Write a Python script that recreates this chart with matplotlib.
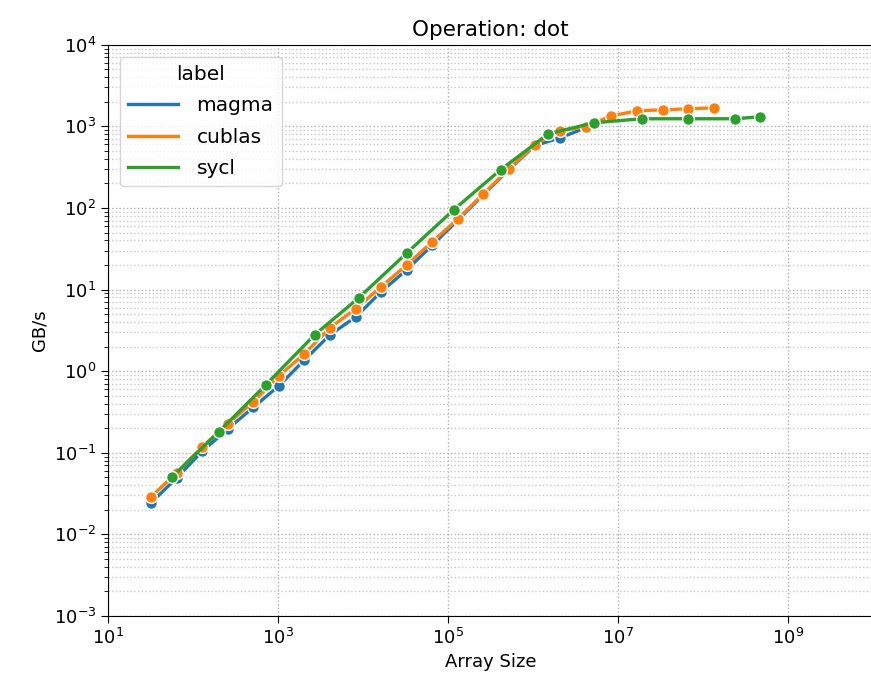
import numpy as np
import pandas as pd
import matplotlib
matplotlib.use("Agg")
import matplotlib.pyplot as plt
import matplotlib.ticker as mticker
from matplotlib.lines import Line2D
import seaborn as sns

# ---- data ----
magma_size = [32, 64, 128, 256, 512, 1024, 2048, 4096, 8192, 16384, 32768,
              65536, 131072, 262144, 524288, 1048576, 2097152, 4194304]
magma_gbs = [0.0243, 0.049, 0.104, 0.195, 0.36, 0.66, 1.37, 2.79, 4.6, 9.4,
             17.5, 35, 71, 146, 296, 580, 725, 960]

cublas_size = [32, 64, 128, 256, 512, 1024, 2048, 4096, 8192, 16384, 32768,
               65536, 131072, 262144, 524288, 1048576, 2097152, 4194304,
               8388608, 16777216, 33554432, 67108864, 134217728]
cublas_gbs = [0.0288, 0.0566, 0.118, 0.226, 0.42, 0.875, 1.63, 3.4, 5.8, 10.8,
              20.1, 38.5, 73.6, 149, 302, 594, 883, 990, 1345, 1550, 1597,
              1640, 1690]

sycl_size = [57, 200, 720, 2700, 8900, 33000, 117000, 417000, 1520000,
             5240000, 19100000, 67600000, 240000000, 470000000]
sycl_gbs = [0.0506, 0.180, 0.68, 2.79, 7.9, 28.2, 95, 294, 811, 1107, 1240,
            1240, 1240, 1310]

labels = ["magma", "cublas", "sycl"]
y_ticks = [1e-3, 1e-2, 1e-1, 1e0, 1e1, 1e2, 1e3, 1e4]
x_ticks = [1e1, 1e3, 1e5, 1e7, 1e9]

df = pd.concat([
    pd.DataFrame({"size": magma_size, "gbs": magma_gbs, "label": "magma"}),
    pd.DataFrame({"size": cublas_size, "gbs": cublas_gbs, "label": "cublas"}),
    pd.DataFrame({"size": sycl_size, "gbs": sycl_gbs, "label": "sycl"}),
], ignore_index=True)

fig = plt.figure(figsize=(8.71, 6.89), dpi=100)
ax = fig.add_axes([0.124, 0.106, 0.878, 0.829])

palette = sns.color_palette()[:3]
sns.lineplot(data=df, x="size", y="gbs", hue="label", hue_order=labels,
             palette=palette, marker="o", markersize=8.5, markeredgewidth=1.0,
             linewidth=2.4, ax=ax, legend=False)

ax.set_xscale("log")
ax.set_yscale("log")
ax.set_xlim(1e1, 1e10)
ax.set_ylim(1e-3, 1e4)

ax.xaxis.set_major_locator(mticker.FixedLocator(x_ticks))
ax.xaxis.set_minor_locator(mticker.NullLocator())
ax.yaxis.set_major_locator(mticker.FixedLocator(y_ticks))
minor_y = [m * 10.0 ** e for e in range(-3, 4) for m in range(2, 10)]
ax.yaxis.set_minor_locator(mticker.FixedLocator(minor_y))
ax.yaxis.set_minor_formatter(mticker.NullFormatter())

ax.grid(True, which="major", linestyle=":", color="#b0b0b0", linewidth=1.0)
ax.grid(True, which="minor", axis="y", linestyle=":", color="#c8c8c8", linewidth=1.0)

ax.tick_params(axis="both", which="major", labelsize=13, length=5)
ax.tick_params(axis="y", which="minor", length=3)

ax.set_xlabel("Array Size", fontsize=13)
ax.set_ylabel("GB/s", fontsize=13)
ax.set_title("Operation: dot", fontsize=15.5)

# legend shows plain lines only
handles = [Line2D([0], [0], color=c, linewidth=2.4) for c in palette]
ax.legend(handles, labels, title="label", loc="upper left", fontsize=14.5,
          title_fontsize=14.5, handlelength=2.5, handletextpad=0.9,
          labelspacing=0.62, borderaxespad=0.6)

fig.savefig("out.png", dpi=100)
